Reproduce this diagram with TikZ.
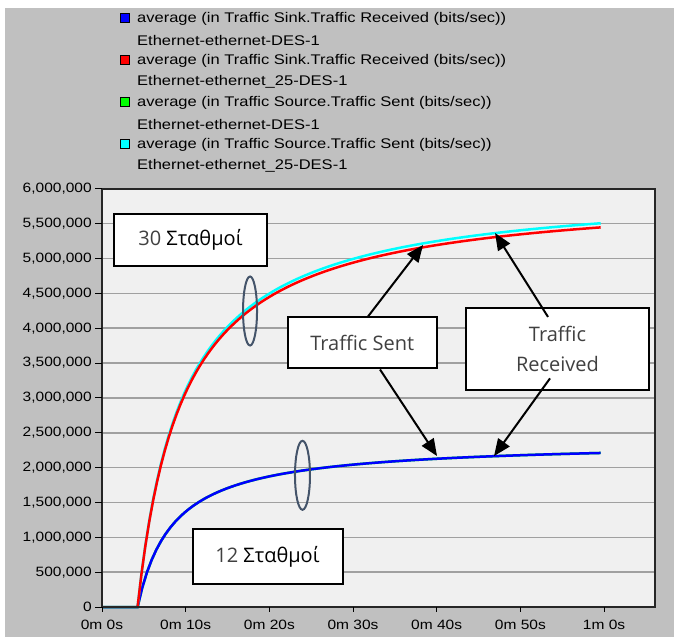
\documentclass[tikz,border=0pt]{standalone}
\usepackage{fontspec}
\setmainfont{Liberation Sans}[FakeStretch=1.15]
\newfontfamily\legendfont{Liberation Sans}[FakeStretch=1.18]
\newfontfamily\notefont{Open Sans}
\usetikzlibrary{arrows.meta,calc,shapes.geometric}
\definecolor{panel}{HTML}{C0C0C0}
\definecolor{plotbg}{HTML}{F0F0F0}
\definecolor{gridgray}{HTML}{A0A0A0}
\definecolor{ringcol}{HTML}{44546A}
\definecolor{notegray}{HTML}{404040}
\definecolor{srcgreen}{HTML}{00FF00}
\definecolor{srccyan}{HTML}{00FFFF}

\begin{document}
\begin{tikzpicture}[x=8.367pt, y=69.7pt,
  every node/.style={font=\fontsize{13.5}{15}\selectfont, inner sep=0pt},
  legendtext/.style={anchor=west, font=\legendfont\fontsize{14}{15}\selectfont},
  notebox/.style={draw=black, line width=2pt, fill=white, text=notegray, align=center,
    font=\notefont\fontsize{20}{30}\selectfont},
  ring/.style={ellipse, draw=ringcol, line width=2pt, minimum width=14pt, minimum height=69pt},
  pointer/.style={line width=2pt, -{Triangle[length=17pt,width=14pt]}},
  curve/.style={line width=2.5pt}]
	\useasboundingbox (-12.19,-0.4304) rectangle (68.36,8.7088);
	\fill[white] (-12.19,-0.4304) rectangle (68.36,8.7088);
	\fill[panel] (-11.59,-0.4304) rectangle (68.36,8.594);
	\fill[plotbg] (0,0) rectangle (66.09,6);
	\foreach \v in {0.5,1,...,5.5}
		\draw[gridgray, line width=1.5pt] (0,\v) -- (66.09,\v);
	\draw[curve, srcgreen] (0,0) -- (4.25,0) -- plot[domain=4.25:59.6, samples=100] (\x,{2.38*(\x-4.25)/\x});
	\draw[curve, blue] (0,0) -- (4.25,0) -- plot[domain=4.25:59.6, samples=100] (\x,{2.38*(\x-4.25)/\x});
	\draw[curve, srccyan] (4.25,0) -- plot[domain=4.25:59.6, samples=120] (\x,{6.045*(\x-4.25)/(\x+1.17)});
	\draw[curve, red] (4.25,0) -- plot[domain=4.25:59.6, samples=120] (\x,{5.98*(\x-4.25)/(\x+1.17)});
	\draw[blue, curve] (0,0) -- (4.25,0);
	\draw[black!85, line width=1.5pt] (0,0) rectangle (66.09,6);
	\foreach \v/\lab [count=\i] in {0/0, 0.5/{500,000}, 1/{1,000,000}, 1.5/{1,500,000}, 2/{2,000,000},
	  2.5/{2,500,000}, 3/{3,000,000}, 3.5/{3,500,000}, 4/{4,000,000}, 4.5/{4,500,000},
	  5/{5,000,000}, 5.5/{5,500,000}, 6/{6,000,000}} {
		\draw[line width=1pt] (-0.8,\v) -- (0,\v);
		\node[anchor=east] (ylab\i) at (-1.2,\v) {\lab};
	}
	\foreach \t/\lab [count=\i] in {0/0m 0s, 10/0m 10s, 20/0m 20s, 30/0m 30s, 40/0m 40s, 50/0m 50s, 60/1m 0s} {
		\draw[line width=1pt] (\t,0) -- (\t,-0.072);
		\node (xlab\i) at (\t,-0.258) {\lab};
	}
	\foreach \c/\what/\run [count=\i from 0] in {blue/Sink.Traffic Received/ethernet-DES-1,
	  red/Sink.Traffic Received/ethernet\_25-DES-1, srcgreen/Source.Traffic Sent/ethernet-DES-1,
	  srccyan/Source.Traffic Sent/ethernet\_25-DES-1} {
		\pgfmathsetmacro{\ry}{8.436-0.6026*\i}
		\filldraw[fill=\c, draw=black, line width=0.8pt] (2.235,\ry-0.055) rectangle (3.263,\ry+0.08);
		\node[legendtext] (avg\i) at (4.18,\ry) {average (in Traffic \what{} (bits/sec))};
		\node[legendtext] (run\i) at (4.18,\ry-0.3013) {Ethernet-\run};
	}
	\node[ring] (ringhi) at (17.69,4.247) {};
	\node[ring, minimum width=15pt] (ringlo) at (23.96,1.89) {};
	\node[notebox, minimum width=153pt, minimum height=52pt] (many) at (10.57,5.267) {30 {\color{black}Σταθμοί}};
	\node[notebox, minimum width=150pt, minimum height=55pt] (few) at (19.78,0.722) {12 {\color{black}Σταθμοί}};
	\node[notebox, minimum width=149pt, minimum height=51pt] (sent) at (31.11,3.788) {Traffic Sent};
	\node[notebox, minimum width=183pt, minimum height=82pt] (recv) at (54.44,3.704) {Traffic\\Received};
	\coordinate (sentup) at (38.37,5.194);
	\coordinate (sentdown) at (40.04,2.166);
	\coordinate (recvup) at (46.97,5.366);
	\coordinate (recvdown) at (46.85,2.166);
	\draw[pointer] ($(sent.north)+(5.7pt,0)$) -- (sentup);
	\draw[pointer] ($(sent.south)+(17.7pt,0)$) -- (sentdown);
	\draw[pointer] ($(recv.center)+(-9.5pt,31.9pt)$) -- (recvup);
	\draw[pointer] ($(recv.center)+(-7.5pt,-29.5pt)$) -- (recvdown);
\end{tikzpicture}
\end{document}
